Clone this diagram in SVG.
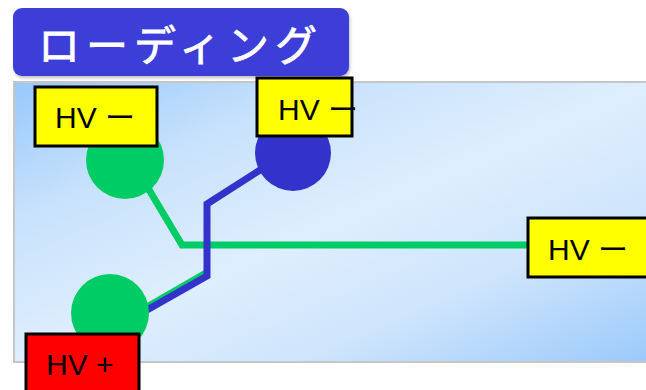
<svg xmlns="http://www.w3.org/2000/svg" width="646" height="390" viewBox="0 0 646 390">
  <defs>
    <linearGradient id="panelFill" x1="0" y1="0" x2="1" y2="1">
      <stop offset="0" stop-color="#97c8fb"/>
      <stop offset="0.25" stop-color="#c8e2fc"/>
      <stop offset="0.5" stop-color="#deeefd"/>
      <stop offset="0.72" stop-color="#cfe5fc"/>
      <stop offset="1" stop-color="#9ac9fb"/>
    </linearGradient>
    <filter id="softShadow" x="-5%" y="-10%" width="110%" height="130%">
      <feDropShadow dx="1" dy="2" stdDeviation="1.5" flood-color="#000" flood-opacity="0.25"/>
    </filter>
  </defs>
  <style>
    .label { stroke: #000; stroke-width: 3; }
    .label-text { font-family: "Liberation Sans", "Noto Sans CJK JP", sans-serif; font-size: 30px; fill: #000; }
    .dash { font-family: "Noto Sans CJK JP", sans-serif; }
    .wire { fill: none; stroke-width: 7; stroke-linejoin: miter; }
    .green { stroke: #00cc66; }
    .blue { stroke: #3333cc; }
  </style>

  <!-- title banner -->
  <g id="title">
    <rect x="13" y="8" width="336" height="68" rx="9" fill="#3c3cd8" filter="url(#softShadow)"/>
    <text x="38" y="61" font-family="'Noto Sans CJK JP', sans-serif" font-size="42" letter-spacing="6" fill="#fff" stroke="#fff" stroke-width="0.8">ローディング</text>
  </g>

  <!-- background panel -->
  <g id="panel">
    <rect x="14" y="82" width="640" height="280" fill="url(#panelFill)" stroke="#c6c6c6" stroke-width="2"/>
  </g>

  <!-- connectors -->
  <g id="connectors">
    <polyline class="wire green" points="148,188 182,245 530,245"/>
    <!-- green return path runs underneath the blue lead -->
    <polyline class="wire green" points="206,273 140,311"/>
    <polyline class="wire blue" points="268,165 207,204 207,276 140,314"/>
  </g>

  <!-- terminals -->
  <g id="node-green-top">
    <circle cx="125" cy="160" r="39" fill="#00cc66"/>
  </g>
  <g id="node-blue-top">
    <circle cx="293" cy="153" r="38" fill="#3333cc"/>
  </g>
  <g id="node-green-bottom">
    <circle cx="110" cy="313" r="39" fill="#00cc66"/>
  </g>

  <!-- labels -->
  <g id="label-hv-minus-1">
    <rect class="label" x="35" y="87" width="122" height="59" fill="#ffff00"/>
    <text class="label-text" x="55" y="128">HV <tspan class="dash">ー</tspan></text>
  </g>
  <g id="label-hv-minus-2">
    <rect class="label" x="257" y="78" width="95" height="58" fill="#ffff00"/>
    <text class="label-text" x="278" y="120">HV <tspan class="dash">ー</tspan></text>
  </g>
  <g id="label-hv-minus-3">
    <rect class="label" x="528" y="218" width="130" height="59" fill="#ffff00"/>
    <text class="label-text" x="548" y="260">HV <tspan class="dash">ー</tspan></text>
  </g>
  <g id="label-hv-plus">
    <rect class="label" x="26" y="334" width="113" height="70" fill="#ff0000"/>
    <text class="label-text" x="46" y="375">HV +</text>
  </g>
</svg>
